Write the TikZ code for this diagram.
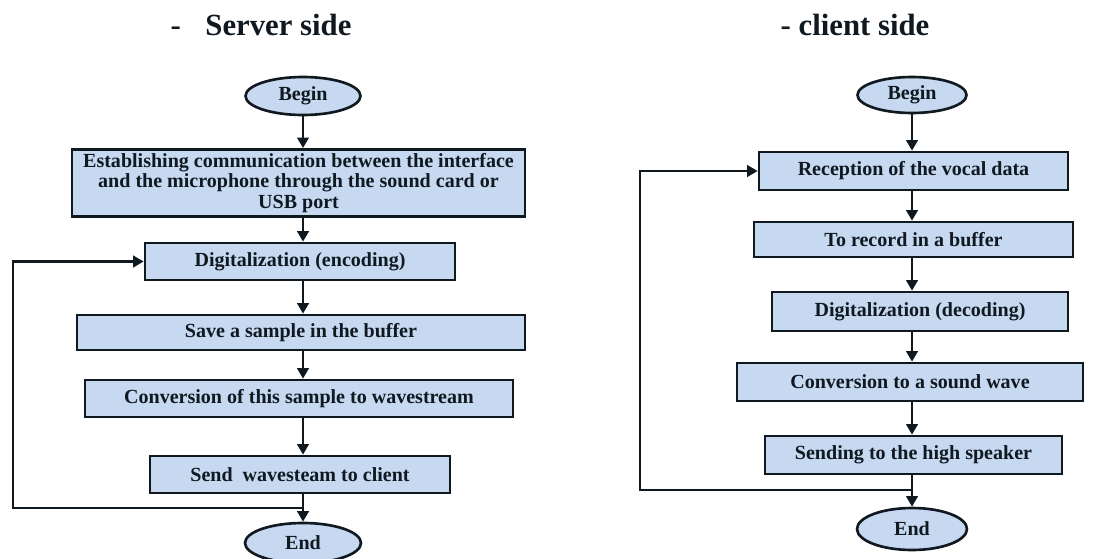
\documentclass[tikz,border=0pt]{standalone}
\usepackage{fontspec}
\setmainfont{Liberation Serif}
\usepackage{xcolor}
\usepackage{tikz}
\usetikzlibrary{arrows.meta, shapes.geometric}

\definecolor{boxfill}{HTML}{C6D9F1}
\definecolor{inkline}{HTML}{101820}

\begin{document}
\begin{tikzpicture}[every node/.style={font=\bfseries\fontsize{11.4}{11.9}\selectfont, text=inkline},
  procbox/.style={draw=inkline, line width=1.5pt, rectangle, fill=boxfill, align=center, inner sep=2pt},
  startstop/.style={draw=inkline, line width=1.5pt, ellipse, fill=boxfill, inner sep=0pt},
  flow/.style={draw=inkline, line width=1.5pt, -{Triangle[length=6pt, width=6.5pt]}}]
\useasboundingbox (0,0) rectangle (22.06,11.16);
% server side
\node[font=\bfseries\fontsize{17.5}{20}\selectfont] (titleS) at (5.22,10.66) {-\hspace{0.8em}Server side};
\node[startstop, minimum width=2.3cm, minimum height=0.76cm] (beginS) at (6.06,9.24) {Begin};
\node[procbox, minimum width=9.06cm, minimum height=1.32cm] (estab) at (5.97,7.5) {Establishing communication between the interface\\and the microphone through the sound card or\\USB port};
\node[procbox, minimum width=6.2cm, minimum height=0.74cm] (encod) at (6.0,5.93) {Digitalization (encoding)};
\node[procbox, minimum width=8.96cm, minimum height=0.70cm] (saveb) at (6.02,4.51) {Save a sample in the buffer};
\node[procbox, minimum width=8.56cm, minimum height=0.74cm] (convw) at (5.98,3.19) {Conversion of this sample to wavestream};
\node[procbox, minimum width=6.0cm, minimum height=0.74cm] (sendc) at (6.0,1.67) {Send\hspace{0.5em}wavesteam to client};
\node[startstop, minimum width=2.32cm, minimum height=0.8cm] (endS) at (6.06,0.3) {End};
\coordinate (loopS) at (6.06,1.0);
\draw[flow] (beginS) -- (beginS |- estab.north);
\draw[flow] (estab.south -| beginS) -- (beginS |- encod.north);
\draw[flow] (encod.south -| beginS) -- (beginS |- saveb.north);
\draw[flow] (saveb.south -| beginS) -- (beginS |- convw.north);
\draw[flow] (convw.south -| beginS) -- (beginS |- sendc.north);
\draw[flow] (sendc.south -| beginS) -- (endS);
\draw[flow] (loopS) -- (0.26,1.0) |- (encod.west);
% client side
\node[font=\bfseries\fontsize{17.5}{20}\selectfont] (titleC) at (17.1,10.66) {- client side};
\node[startstop, minimum width=2.18cm, minimum height=0.72cm] (beginC) at (18.24,9.26) {Begin};
\node[procbox, minimum width=6.18cm, minimum height=0.76cm] (recep) at (18.27,7.74) {Reception of the vocal data};
\node[procbox, minimum width=6.38cm, minimum height=0.70cm] (recbuf) at (18.27,6.37) {To record in a buffer};
\node[procbox, minimum width=5.92cm, minimum height=0.78cm] (decod) at (18.4,4.93) {Digitalization (decoding)};
\node[procbox, minimum width=6.92cm, minimum height=0.76cm] (soundw) at (18.2,3.52) {Conversion to a sound wave};
\node[procbox, minimum width=5.94cm, minimum height=0.76cm] (speak) at (18.27,2.06) {Sending to the high speaker};
\node[startstop, minimum width=2.2cm, minimum height=0.84cm] (endC) at (18.24,0.58) {End};
\coordinate (loopC) at (18.24,1.36);
\draw[flow] (beginC) -- (beginC |- recep.north);
\draw[flow] (recep.south -| beginC) -- (beginC |- recbuf.north);
\draw[flow] (recbuf.south -| beginC) -- (beginC |- decod.north);
\draw[flow] (decod.south -| beginC) -- (beginC |- soundw.north);
\draw[flow] (soundw.south -| beginC) -- (beginC |- speak.north);
\draw[flow] (speak.south -| beginC) -- (endC);
\draw[flow] (loopC) -- (12.8,1.36) |- (recep.west);
\end{tikzpicture}
\end{document}
